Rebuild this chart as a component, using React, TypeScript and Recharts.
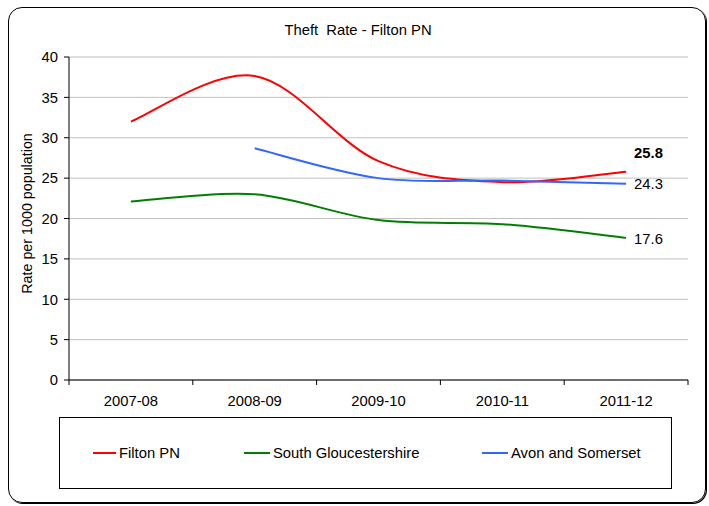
import React from 'react';
import { LineChart, Line, XAxis, YAxis, CartesianGrid } from 'recharts';

const categories = ['2007-08', '2008-09', '2009-10', '2010-11', '2011-12'];
const filtonPN = [32.0, 37.65, 27.1, 24.5, 25.8];
const southGlos = [22.1, 23.0, 19.8, 19.3, 17.6];
const avonSomerset: (number | null)[] = [null, 28.7, 25.0, 24.7, 24.3];
const yTicks = [0, 5, 10, 15, 20, 25, 30, 35, 40];
const seriesNames = ['Filton PN', 'South Gloucestershire', 'Avon and Somerset'];
const seriesColors = ['#ff0000', '#008000', '#3366ff'];
const title = 'Theft  Rate - Filton PN';
const yLabel = 'Rate per 1000 population';

const data = categories.map((c, i) => ({
  idx: i,
  cat: c,
  filton: filtonPN[i],
  south: southGlos[i],
  avon: avonSomerset[i],
}));

const W = 709;
const H = 506;
const M = { top: 57, right: 21, bottom: 86, left: 0 };
const Y_AXIS_W = 69;
const PLOT_W = W - M.left - M.right - Y_AXIS_W;
const FONT = '"Liberation Sans", Arial, sans-serif';
const FS = 14.8;

// Excel-like smoothing (Catmull-Rom / cardinal with tension 0)
const excelSmooth = (context: any) => {
  let pts: number[][] = [];
  return {
    areaStart() {},
    areaEnd() {},
    lineStart() {
      pts = [];
    },
    lineEnd() {
      const n = pts.length;
      if (!n) return;
      context.moveTo(pts[0][0], pts[0][1]);
      for (let i = 0; i < n - 1; i++) {
        const p0 = pts[Math.max(i - 1, 0)];
        const p1 = pts[i];
        const p2 = pts[i + 1];
        const p3 = pts[Math.min(i + 2, n - 1)];
        context.bezierCurveTo(
          p1[0] + (p2[0] - p0[0]) / 6,
          p1[1] + (p2[1] - p0[1]) / 6,
          p2[0] - (p3[0] - p1[0]) / 6,
          p2[1] - (p3[1] - p1[1]) / 6,
          p2[0],
          p2[1]
        );
      }
    },
    point(x: number, y: number) {
      pts.push([+x, +y]);
    },
  };
};

const xBoundaries = [...categories.map((_, i) => i - 0.5), categories.length - 0.5];

const XTick = (props: any) => {
  const { x, y, payload } = props;
  const v = payload.value;
  const i = Math.round(v + 0.5);
  if (i < 0 || i >= categories.length) return <g />;
  const half = PLOT_W / (2 * categories.length);
  return (
    <text
      x={x + half}
      y={y + 8}
      dy="0.71em"
      textAnchor="middle"
      fontFamily={FONT}
      fontSize={FS}
      fill="#000"
    >
      {categories[i]}
    </text>
  );
};

const endLabel = (series: (number | null)[], bold: boolean, dyOff: number) => (props: any) => {
  const { x, y, index, value } = props;
  const last = series.length - 1;
  if (index !== last && !(index === undefined && value === series[last])) return <g key={`l${index}`} />;
  return (
    <text
      key={`l${index}`}
      x={x + 8}
      y={y + dyOff}
      dominantBaseline="central"
      fontFamily={FONT}
      fontSize={FS}
      fontWeight={bold ? 'bold' : 'normal'}
      fill="#000"
    >
      {Number(series[last]).toFixed(1)}
    </text>
  );
};

const YLabel = (props: any) => {
  const vb = props.viewBox || { x: 0, y: M.top, width: Y_AXIS_W, height: 323 };
  const cx = vb.x + 27;
  const cy = vb.y + vb.height / 2 - 5;
  return (
    <text
      x={cx}
      y={cy}
      transform={`rotate(-90, ${cx}, ${cy})`}
      textAnchor="middle"
      dominantBaseline="central"
      fontFamily={FONT}
      fontSize={14.3}
      fill="#000"
    >
      {yLabel}
    </text>
  );
};

const legendLefts = [93, 244, 482];
const legendLineW = [23, 26, 26];

export default function App() {
  return (
    <div style={{ position: 'absolute', left: 0, top: 0, width: W, height: H, background: '#fff' }}>
      <div
        style={{
          position: 'absolute',
          left: 8,
          top: 7,
          width: 698,
          height: 496,
          boxSizing: 'border-box',
          border: '1.5px solid #000',
          borderRadius: 14,
          boxShadow: '1px 1px 0 #000',
        }}
      />
      <div
        style={{
          position: 'absolute',
          left: 0,
          top: 21,
          width: 716,
          textAlign: 'center',
          fontFamily: FONT,
          fontSize: FS,
          lineHeight: '18px',
          color: '#000',
          whiteSpace: 'pre',
        }}
      >
        {title}
      </div>
      <div style={{ position: 'absolute', left: 0, top: 0 }}>
        <LineChart width={W} height={H} data={data} margin={M}>
          <CartesianGrid vertical={false} stroke="#c0c0c0" strokeWidth={1} />
          <XAxis
            dataKey="idx"
            type="number"
            domain={[-0.5, categories.length - 0.5]}
            ticks={xBoundaries}
            interval={0}
            tick={<XTick />}
            tickLine={{ stroke: '#000' }}
            tickSize={5}
            axisLine={{ stroke: '#000' }}
            height={40}
          />
          <YAxis
            domain={[0, 40]}
            ticks={yTicks}
            interval={0}
            width={Y_AXIS_W}
            tickSize={5}
            tickMargin={6}
            tickLine={{ stroke: '#000' }}
            axisLine={{ stroke: '#000' }}
            tick={{ fill: '#000', fontFamily: FONT, fontSize: FS }}
            label={<YLabel />}
          />
          <YAxis
            yAxisId="right"
            orientation="right"
            width={0}
            tick={false}
            tickLine={false}
            axisLine={{ stroke: '#c0c0c0' }}
          />
          <Line
            dataKey="filton"
            name={seriesNames[0]}
            stroke={seriesColors[0]}
            strokeWidth={2}
            dot={false}
            type={excelSmooth as any}
            isAnimationActive={false}
            label={endLabel(filtonPN, true, -19)}
          />
          <Line
            dataKey="south"
            name={seriesNames[1]}
            stroke={seriesColors[1]}
            strokeWidth={2}
            dot={false}
            type={excelSmooth as any}
            isAnimationActive={false}
            label={endLabel(southGlos, false, 1)}
          />
          <Line
            dataKey="avon"
            name={seriesNames[2]}
            stroke={seriesColors[2]}
            strokeWidth={2}
            dot={false}
            type={excelSmooth as any}
            isAnimationActive={false}
            label={endLabel(avonSomerset, false, 0)}
          />
        </LineChart>
      </div>
      <div
        style={{
          position: 'absolute',
          left: 59,
          top: 417,
          width: 613,
          height: 72,
          boxSizing: 'border-box',
          border: '1px solid #000',
        }}
      />
      {seriesNames.map((name, i) => (
        <div
          key={name}
          style={{
            position: 'absolute',
            left: legendLefts[i],
            top: 444,
            height: 18,
            display: 'flex',
            alignItems: 'center',
            fontFamily: FONT,
            fontSize: FS,
            color: '#000',
            whiteSpace: 'nowrap',
          }}
        >
          <span
            style={{
              display: 'inline-block',
              width: legendLineW[i],
              height: 2,
              background: seriesColors[i],
              marginRight: 3,
            }}
          />
          {name}
        </div>
      ))}
    </div>
  );
}
